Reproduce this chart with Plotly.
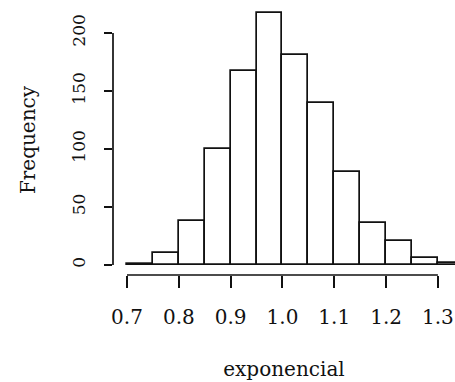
import plotly.graph_objects as go

# histogram data (bin edges of width 0.05)
bin_left = [0.70, 0.75, 0.80, 0.85, 0.90, 0.95, 1.00, 1.05, 1.10, 1.15, 1.20, 1.25, 1.30]
counts = [1, 10, 38, 100, 167, 217, 181, 140, 80, 36, 21, 6, 2]
bin_width = 0.05

x_ticks = [0.7, 0.8, 0.9, 1.0, 1.1, 1.2, 1.3]
x_ticktext = ["0.7", "0.8", "0.9", "1.0", "1.1", "1.2", "1.3"]
y_ticks = [0, 50, 100, 150, 200]

centers = [b + bin_width / 2 for b in bin_left]

fig = go.Figure()
fig.add_trace(go.Bar(
    x=centers, y=counts, width=[bin_width] * len(counts),
    marker=dict(color="white", line=dict(color="#111111", width=1.7)),
    showlegend=False,
))

font_family = "DejaVu Serif"
fig.update_layout(
    width=455, height=382,
    margin=dict(l=113, r=0, t=5, b=107),
    paper_bgcolor="white", plot_bgcolor="white",
    bargap=0,
    xaxis=dict(
        range=[0.673, 1.333],
        tickvals=x_ticks, ticktext=x_ticktext,
        ticks="outside", ticklen=12, tickwidth=1.7, tickcolor="#111111",
        showline=False, showgrid=False, zeroline=False,
        tickfont=dict(family=font_family, size=20, color="#111111"),
        ticklabelstandoff=12,
        title=dict(text="exponencial", font=dict(family=font_family, size=20, color="#111111"), standoff=33),
    ),
    yaxis=dict(
        range=[-8.62, 224.1],
        tickvals=y_ticks,
        ticks="outside", ticklen=8, tickwidth=1.7, tickcolor="#111111",
        showline=False, showgrid=False, zeroline=False,
        tickangle=-90,
        tickfont=dict(family=font_family, size=17, color="#111111"),
        ticklabelstandoff=12,
        title=dict(text="Frequency", font=dict(family=font_family, size=20, color="#111111"), standoff=28),
    ),
)

# R-style axis lines spanning only the tick range
fig.add_shape(type="line", xref="x", yref="paper",
              x0=min(x_ticks), x1=max(x_ticks), y0=0, y1=0,
              line=dict(color="#111111", width=1.7))
fig.add_shape(type="line", xref="paper", yref="y",
              x0=0, x1=0, y0=min(y_ticks), y1=max(y_ticks),
              line=dict(color="#111111", width=1.7))

fig.write_html("out.html")
